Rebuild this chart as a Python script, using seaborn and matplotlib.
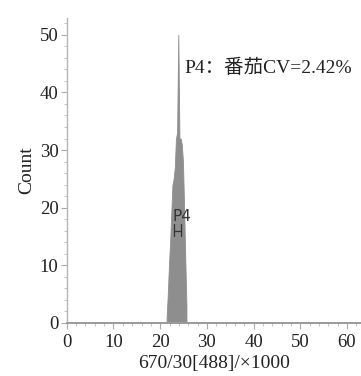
import numpy as np
import pandas as pd
import matplotlib
matplotlib.use('Agg')
import matplotlib.pyplot as plt
import seaborn as sns

# histogram (bin centres, channel /1000, and counts)
bin_centers = [21.375, 21.625, 21.875, 22.125, 22.375, 22.625, 22.875, 23.125, 23.375,
               23.625, 23.875, 24.125, 24.375, 24.625, 24.875, 25.125, 25.375, 25.625]
counts = [1, 5, 10, 14, 19, 24, 25, 27, 32, 33, 50, 32, 32, 31, 28, 20, 11, 3]
bin_edges = [21.25 + 0.25 * i for i in range(len(bin_centers) + 1)]

x_ticks = [0, 10, 20, 30, 40, 50, 60]
y_ticks = [0, 10, 20, 30, 40, 50]
gate_name = 'P4'
gate_range = (22.9, 24.5)
gate_level = 16.0
note_text = 'P4：番茄CV=2.42%'
x_label = '670/30[488]/×1000'
y_label = 'Count'

sns.set_theme(style='white')
plt.rcParams['font.family'] = ['Liberation Serif', 'Noto Sans CJK SC']

df = pd.DataFrame({'value': bin_centers, 'count': counts})

fig = plt.figure(figsize=(3.61, 3.76), dpi=100)
ax = fig.add_axes([0.185, 0.141, 0.815, 0.811])

sns.histplot(data=df, x='value', weights='count', bins=bin_edges, element='poly',
             fill=True, color='#8e8e8e', alpha=1, linewidth=0.6, ax=ax)

ax.set_xlim(0, 63)
ax.set_ylim(0, 52.9)
ax.set_xticks(x_ticks)
ax.set_yticks(y_ticks)
ax.set_xticks(np.arange(0, 63, 2), minor=True)
ax.set_yticks(np.arange(0, 53, 2), minor=True)
ax.tick_params(axis='both', which='major', length=4, width=0.8, color='#aaaaaa',
               labelsize=13.5, labelcolor='#222222', pad=2, bottom=True, left=True)
ax.tick_params(axis='x', which='major', pad=4)
ax.tick_params(axis='both', which='minor', length=2.5, width=0.6, color='#bbbbbb',
               bottom=True, left=True)

for side in ['top', 'right']:
    ax.spines[side].set_visible(False)
ax.spines['left'].set_color('#b5b5b5')
ax.spines['left'].set_linewidth(1.0)
ax.spines['bottom'].set_color('#9a9a9a')
ax.spines['bottom'].set_linewidth(1.4)

ax.set_xlabel(x_label, fontsize=14, color='#222222', labelpad=3)
ax.set_ylabel(y_label, fontsize=14, color='#222222', labelpad=3)

# gate marker
g0, g1 = gate_range
ax.plot([g0, g1], [gate_level, gate_level], color='#333333', lw=0.9)
ax.plot([g0, g0], [gate_level - 0.9, gate_level + 1.2], color='#333333', lw=0.9)
ax.plot([g1, g1], [gate_level - 0.9, gate_level + 1.2], color='#333333', lw=0.9)
ax.text(g0 - 0.2, gate_level + 1.1, gate_name, fontsize=11, color='#333333',
        family='DejaVu Sans', ha='left', va='bottom')

ax.text(25.1, 44.2, note_text, fontsize=14, color='#222222', ha='left', va='center',
        family=['Liberation Serif', 'Noto Sans CJK SC'])

fig.savefig('out.png', dpi=100)
